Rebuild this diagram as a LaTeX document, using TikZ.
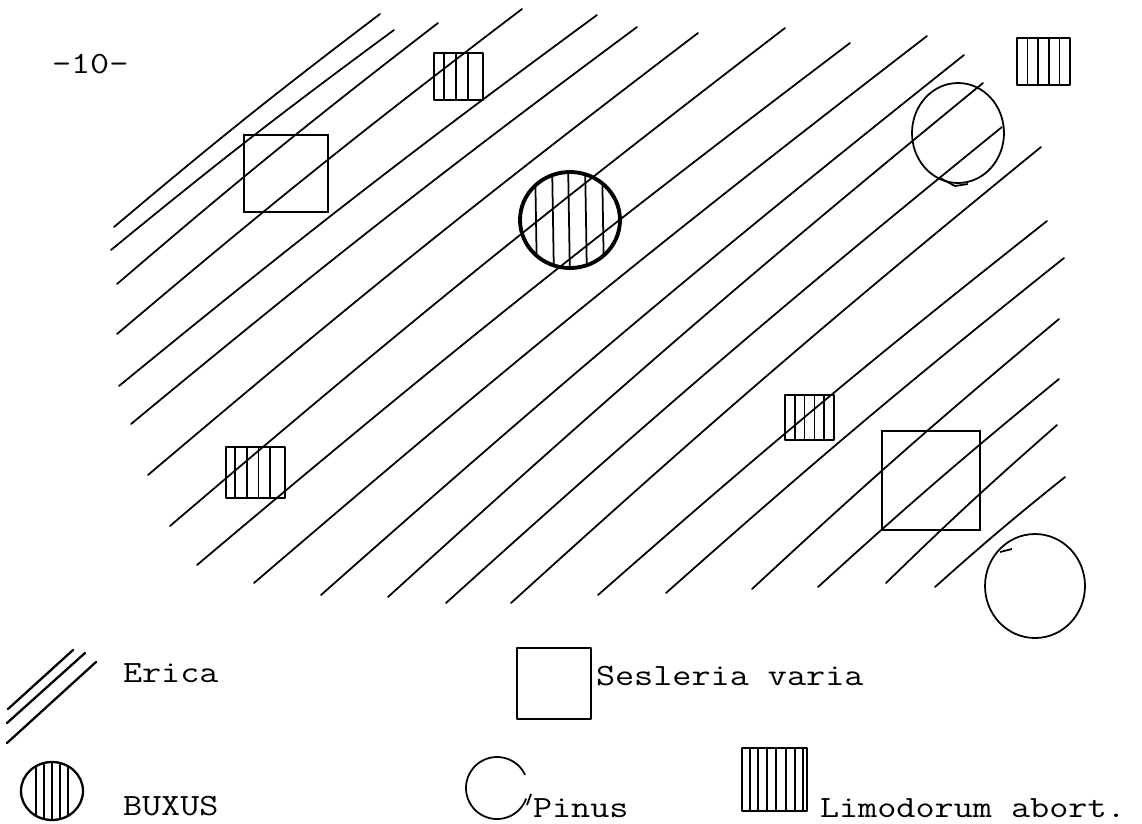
\documentclass[tikz,border=0pt]{standalone}
\usepackage{graphicx}
\newcommand\twfont{\fontsize{17.6pt}{20pt}\selectfont\ttfamily}
\newcommand\twtext[1]{\scalebox{1.2}[1]{\twfont #1}}
\tikzset{
  hatch/.style={line width=1.0pt, line cap=round},
  box/.style={line width=1.3pt, line join=round},
  thinbox/.style={line width=1.0pt},
  vline/.style={line width=1.0pt},
  label/.style={anchor=base west, inner sep=0pt, outer sep=0pt},
}
\newcommand\limobox[5]{%
  \draw[box] (#1,#2) rectangle (#3,#4);
  \foreach \t in {#5} \draw[vline] ({#1+\t*(#3-#1)},#2) -- ({#1+\t*(#3-#1)},#4);
}
\begin{document}
\begin{tikzpicture}[x=0.02cm, y=-0.02cm]
\useasboundingbox (0,0) rectangle (1142,823);
% Erica hatching
\foreach \a/\b/\c/\d in {
  114/227/380/14, 111/250/394/30, 117/284/438/23, 117/334/522/9,
  119/386/597/15, 131/424/637/27, 148/475/698/33, 170/526/785/28,
  197/565/850/43, 254/583/927/36, 321/595/964/55, 388/597/983/83,
  446/603/1002/127, 511/603/1041/147, 598/595/1047/221, 666/593/1064/258,
  752/589/1059/319, 818/587/1059/379, 886/583/1057/425, 935/587/1065/477}
  \draw[hatch] (\a,\b) to[bend left=1.5] (\c,\d);
% page number
\node[label] (pagenum) at (52,73) {\twtext{-10-}};
% Sesleria squares
\draw[thinbox] (244,135) rectangle (328,212);
\draw[thinbox] (882,431) rectangle (980,530);
% Limodorum boxes
\limobox{434}{53}{483}{100}{0.2,0.45,0.7}
\limobox{1017}{38}{1070}{85}{0.2,0.4,0.6,0.8}
\limobox{226}{447}{285}{498}{0.15,0.35,0.55,0.75}
\limobox{785}{395}{834}{440}{0.2,0.4,0.6,0.8}
% Buxus
\begin{scope}
  \clip (570,220) ellipse [x radius=50, y radius=48];
  \foreach \x in {535,552,568,585,602} \draw[vline] (\x,160) -- (\x+2,280);
\end{scope}
\draw[line width=2.2pt] (570,220) ellipse [x radius=50, y radius=48];
% Pinus circles
\draw[thinbox] (958,133) ellipse [x radius=46, y radius=50];
\draw[thinbox] (940,178) -- (955,186) -- (968,184);
\draw[thinbox] (1035,586) ellipse [x radius=50, y radius=52];
\draw[thinbox] (1000,552) -- (1012,549);
% Legend: Erica
\draw[line width=1.3pt, line cap=round] (8,709) -- (73,650);
\draw[line width=1.3pt, line cap=round] (7,723) -- (85,653);
\draw[line width=1.3pt, line cap=round] (7,743) -- (96,662);
\node[label] (erica) at (123,682) {\twtext{Erica}};
% Legend: Buxus
\begin{scope}
  \clip (52,791) ellipse [x radius=31, y radius=29];
  \foreach \x in {36,44,52,60,68} \draw[line width=1.4pt] (\x,755) -- (\x,825);
\end{scope}
\draw[box] (52,791) ellipse [x radius=31, y radius=29];
\node[label] (buxus) at (123,815) {\twtext{BUXUS}};
% Legend: Sesleria
\draw[box] (517,648) rectangle (591,719);
\node[label] (sesleria) at (596,685) {\twtext{Sesleria varia}};
% Legend: Pinus
\draw[thinbox] (497,788) ++(20:31) arc[start angle=20, end angle=335, radius=31];
\draw[thinbox] (531,794) -- (527,805);
\node[label] (pinus) at (533,817) {\twtext{Pinus}};
% Legend: Limodorum
\draw[box] (742,748) rectangle (807,811);
\foreach \x in {750,758,767,776,786,795,803} \draw[line width=1.4pt] (\x,748) -- (\x,811);
\node[label] (limodorum) at (820,817) {\twtext{Limodorum abort.}};
\end{tikzpicture}
\end{document}
